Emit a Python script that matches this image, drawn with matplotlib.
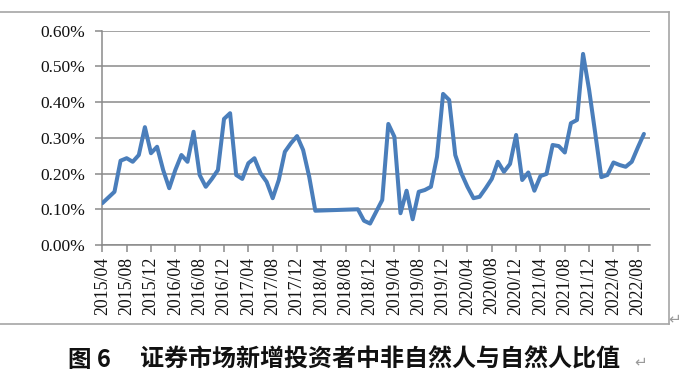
import matplotlib
matplotlib.use("Agg")
import matplotlib.pyplot as plt
from matplotlib.lines import Line2D

# ---------------- data ----------------
months = [
    "2015/04", "2015/05", "2015/06", "2015/07", "2015/08", "2015/09", "2015/10", "2015/11", "2015/12",
    "2016/01", "2016/02", "2016/03", "2016/04", "2016/05", "2016/06", "2016/07", "2016/08", "2016/09",
    "2016/10", "2016/11", "2016/12", "2017/01", "2017/02", "2017/03", "2017/04", "2017/05", "2017/06",
    "2017/07", "2017/08", "2017/09", "2017/10", "2017/11", "2017/12", "2018/01", "2018/02", "2018/03",
    "2018/10", "2018/11", "2018/12", "2019/01", "2019/02", "2019/03", "2019/04", "2019/05", "2019/06",
    "2019/07", "2019/08", "2019/09", "2019/10", "2019/11", "2019/12", "2020/01", "2020/02", "2020/03",
    "2020/04", "2020/05", "2020/06", "2020/07", "2020/08", "2020/09", "2020/10", "2020/11", "2020/12",
    "2021/01", "2021/02", "2021/03", "2021/04", "2021/05", "2021/06", "2021/07", "2021/08", "2021/09",
    "2021/10", "2021/11", "2021/12", "2022/01", "2022/02", "2022/03", "2022/04", "2022/05", "2022/06",
    "2022/07", "2022/08", "2022/09",
]
ratio_pct = [
    0.117, 0.133, 0.149, 0.236, 0.243, 0.233, 0.252, 0.330, 0.257,
    0.275, 0.210, 0.159, 0.210, 0.252, 0.233, 0.317, 0.196, 0.163,
    0.185, 0.210, 0.353, 0.369, 0.196, 0.185, 0.229, 0.243, 0.201,
    0.177, 0.131, 0.182, 0.261, 0.285, 0.305, 0.266, 0.191, 0.096,
    0.100, 0.068, 0.060, 0.093, 0.126, 0.339, 0.303, 0.089, 0.152,
    0.072, 0.149, 0.154, 0.163, 0.247, 0.423, 0.406, 0.252, 0.201,
    0.163, 0.131, 0.135, 0.159, 0.185, 0.233, 0.205, 0.227, 0.308,
    0.182, 0.203, 0.152, 0.193, 0.199, 0.280, 0.277, 0.259, 0.341,
    0.350, 0.535, 0.434, 0.313, 0.190, 0.196, 0.231, 0.224, 0.219,
    0.233, 0.273, 0.311,
]
tick_labels = [
    "2015/04", "2015/08", "2015/12", "2016/04", "2016/08", "2016/12", "2017/04", "2017/08",
    "2017/12", "2018/04", "2018/08", "2018/12", "2019/04", "2019/08", "2019/12", "2020/04",
    "2020/08", "2020/12", "2021/04", "2021/08", "2021/12", "2022/04", "2022/08",
]
y_ticks = [0.0, 0.1, 0.2, 0.3, 0.4, 0.5, 0.6]
caption_fig = "图 6"
caption_text = "证券市场新增投资者中非自然人与自然人比值"


def month_index(s):
    y, m = s.split("/")
    return (int(y) - 2015) * 12 + int(m) - 4


x_vals = [month_index(m) for m in months]
tick_pos = [month_index(t) for t in tick_labels]

# ---------------- figure ----------------
W, H = 700, 392
fig = plt.figure(figsize=(W / 100, H / 100), dpi=100)
fig.patch.set_facecolor("white")

left, right, top, bottom = 102.3, 650.0, 30.7, 245.0
ax = fig.add_axes([left / W, 1 - bottom / H, (right - left) / W, (bottom - top) / H])

grid_c = "#8a8a8a"
ax.plot(x_vals, ratio_pct, color="#4a7ebb", lw=2.9, solid_joinstyle="round",
        solid_capstyle="round", zorder=3)

ax.set_xlim(0, 90)
ax.set_ylim(0, 0.6)
ax.set_yticks(y_ticks)
ax.set_yticklabels([f"{v:.2f}%" for v in y_ticks])
ax.set_xticks(tick_pos)
ax.set_xticklabels(tick_labels, rotation=90)

ax.yaxis.grid(True, color=grid_c, lw=1.1)
ax.set_axisbelow(True)
for s in ["top", "right"]:
    ax.spines[s].set_visible(False)
for s in ["left", "bottom"]:
    ax.spines[s].set_color(grid_c)
    ax.spines[s].set_linewidth(1.1)

serif = "Liberation Serif"
ax.tick_params(axis="y", direction="out", length=5, width=1.1, color=grid_c, pad=7.5,
               labelsize=12.5, labelcolor="#111111")
ax.tick_params(axis="x", direction="out", length=5, width=1.1, color=grid_c, pad=3.5,
               labelsize=12.8, labelcolor="#111111")
for lab in ax.get_xticklabels() + ax.get_yticklabels():
    lab.set_fontfamily(serif)

# outer chart box (left edge outside picture)
box_c = "#a6a6a6"
fig.add_artist(Line2D([-1 / W, 669 / W], [1 - 11.7 / H, 1 - 11.7 / H], transform=fig.transFigure,
                      color=box_c, lw=1.2))
fig.add_artist(Line2D([669 / W, 669 / W], [1 - 11.7 / H, 1 - 323.5 / H], transform=fig.transFigure,
                      color=box_c, lw=1.2))
fig.add_artist(Line2D([-1 / W, 669 / W], [1 - 323.5 / H, 1 - 323.5 / H], transform=fig.transFigure,
                      color=box_c, lw=1.2))

fig.text(668 / W, 1 - 319 / H, "↵", fontsize=11, color="#9a9a9a",
         family=["DejaVu Sans"], ha="left", va="center")

# caption
cap_y = 1 - 360 / H
cjk = ["Noto Sans CJK SC", "DejaVu Sans"]
fig.text(68 / W, cap_y, caption_fig, fontsize=17, fontweight="bold", family=cjk,
         ha="left", va="center", color="#111111")
fig.text(140 / W, cap_y, caption_text, fontsize=17.3, fontweight="bold", family=cjk,
         ha="left", va="center", color="#111111")
fig.text(634 / W, cap_y - 0.005, "↵", fontsize=11, color="#9a9a9a",
         family=["DejaVu Sans"], ha="left", va="center")

fig.savefig("out.png", dpi=100, facecolor="white")
